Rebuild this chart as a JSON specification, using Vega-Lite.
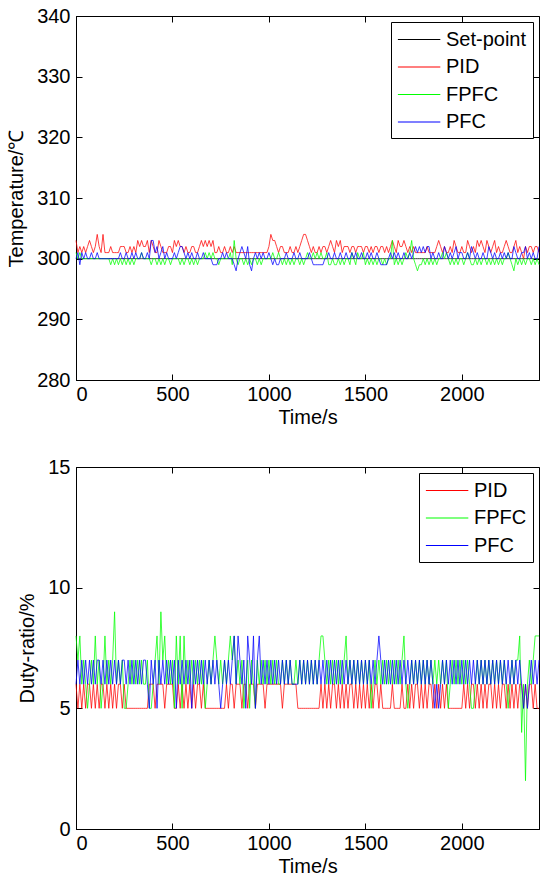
{
"$schema": "https://vega.github.io/schema/vega-lite/v6.json",
"padding": {"left": 6, "top": 5, "right": 0, "bottom": 0},
"spacing": 28,
"config": {
  "font": "Liberation Sans",
  "view": {"stroke": "black", "strokeWidth": 1},
  "axis": {"grid": false, "domainColor": "black", "domainWidth": 1, "tickColor": "black", "labelColor": "black", "titleColor": "black", "labelFontSize": 20, "titleFontSize": 20, "titleFontWeight": "normal", "tickSize": -6, "labelFont": "Liberation Sans", "titleFont": "Liberation Sans"},
  "axisX": {"labelPadding": 10, "titlePadding": 3},
  "axisY": {"labelPadding": 12, "titlePadding": 10},
  "legend": {"orient": "top-right", "offset": 6, "fillColor": "white", "strokeColor": "black", "strokeWidth": 1, "padding": 6, "labelFontSize": 20, "labelFont": "Liberation Sans", "labelColor": "black", "symbolType": "M-1,0L3,0", "symbolSize": 450, "symbolStrokeWidth": 1.1, "labelOffset": 26, "rowPadding": 5.5, "cornerRadius": 0}
},
"datasets": {
"temp": [
{"t":0,"Set-point":300,"PID":303,"FPFC":301,"PFC":300},
{"t":10,"Set-point":300,"PID":301,"FPFC":300,"PFC":301},
{"t":20,"Set-point":300,"PID":302,"FPFC":301,"PFC":299},
{"t":30,"Set-point":300,"PID":301,"FPFC":300,"PFC":301},
{"t":40,"Set-point":300,"PID":302,"FPFC":300,"PFC":300},
{"t":50,"Set-point":300,"PID":301,"FPFC":300,"PFC":301},
{"t":60,"Set-point":300,"PID":302,"FPFC":300,"PFC":300},
{"t":70,"Set-point":300,"PID":303,"FPFC":300,"PFC":300},
{"t":80,"Set-point":300,"PID":302,"FPFC":300,"PFC":301},
{"t":90,"Set-point":300,"PID":301,"FPFC":300,"PFC":300},
{"t":100,"Set-point":300,"PID":302,"FPFC":300,"PFC":300},
{"t":110,"Set-point":300,"PID":304,"FPFC":300,"PFC":301},
{"t":120,"Set-point":300,"PID":302,"FPFC":300,"PFC":300},
{"t":130,"Set-point":300,"PID":301,"FPFC":300,"PFC":300},
{"t":140,"Set-point":300,"PID":304,"FPFC":300,"PFC":300},
{"t":150,"Set-point":300,"PID":301,"FPFC":300,"PFC":300},
{"t":160,"Set-point":300,"PID":301,"FPFC":300,"PFC":300},
{"t":170,"Set-point":300,"PID":301,"FPFC":300,"PFC":300},
{"t":180,"Set-point":300,"PID":302,"FPFC":299,"PFC":300},
{"t":190,"Set-point":300,"PID":301,"FPFC":300,"PFC":300},
{"t":200,"Set-point":300,"PID":301,"FPFC":299,"PFC":300},
{"t":210,"Set-point":300,"PID":301,"FPFC":300,"PFC":300},
{"t":220,"Set-point":300,"PID":301,"FPFC":299,"PFC":300},
{"t":230,"Set-point":300,"PID":302,"FPFC":300,"PFC":301},
{"t":240,"Set-point":300,"PID":302,"FPFC":299,"PFC":300},
{"t":250,"Set-point":300,"PID":302,"FPFC":300,"PFC":300},
{"t":260,"Set-point":300,"PID":301,"FPFC":299,"PFC":301},
{"t":270,"Set-point":300,"PID":301,"FPFC":300,"PFC":300},
{"t":280,"Set-point":300,"PID":302,"FPFC":299,"PFC":300},
{"t":290,"Set-point":300,"PID":301,"FPFC":300,"PFC":301},
{"t":300,"Set-point":300,"PID":302,"FPFC":299,"PFC":300},
{"t":310,"Set-point":300,"PID":301,"FPFC":300,"PFC":301},
{"t":320,"Set-point":300,"PID":303,"FPFC":300,"PFC":300},
{"t":330,"Set-point":300,"PID":302,"FPFC":300,"PFC":300},
{"t":340,"Set-point":300,"PID":303,"FPFC":301,"PFC":301},
{"t":350,"Set-point":300,"PID":302,"FPFC":300,"PFC":300},
{"t":360,"Set-point":300,"PID":302,"FPFC":300,"PFC":300},
{"t":370,"Set-point":300,"PID":303,"FPFC":300,"PFC":301},
{"t":380,"Set-point":300,"PID":301,"FPFC":300,"PFC":300},
{"t":390,"Set-point":300,"PID":303,"FPFC":299,"PFC":303},
{"t":400,"Set-point":300,"PID":302,"FPFC":300,"PFC":303},
{"t":410,"Set-point":300,"PID":301,"FPFC":300,"PFC":301},
{"t":420,"Set-point":300,"PID":301,"FPFC":299,"PFC":302},
{"t":430,"Set-point":300,"PID":303,"FPFC":300,"PFC":300},
{"t":440,"Set-point":300,"PID":302,"FPFC":299,"PFC":301},
{"t":450,"Set-point":300,"PID":301,"FPFC":300,"PFC":302},
{"t":460,"Set-point":300,"PID":301,"FPFC":299,"PFC":300},
{"t":470,"Set-point":300,"PID":301,"FPFC":300,"PFC":301},
{"t":480,"Set-point":300,"PID":302,"FPFC":300,"PFC":300},
{"t":490,"Set-point":300,"PID":302,"FPFC":299,"PFC":300},
{"t":500,"Set-point":300,"PID":301,"FPFC":300,"PFC":300},
{"t":510,"Set-point":300,"PID":303,"FPFC":300,"PFC":301},
{"t":520,"Set-point":300,"PID":302,"FPFC":300,"PFC":300},
{"t":530,"Set-point":300,"PID":303,"FPFC":300,"PFC":301},
{"t":540,"Set-point":300,"PID":302,"FPFC":299,"PFC":302},
{"t":550,"Set-point":300,"PID":302,"FPFC":300,"PFC":302},
{"t":560,"Set-point":300,"PID":301,"FPFC":299,"PFC":301},
{"t":570,"Set-point":300,"PID":302,"FPFC":300,"PFC":300},
{"t":580,"Set-point":300,"PID":301,"FPFC":300,"PFC":301},
{"t":590,"Set-point":300,"PID":301,"FPFC":299,"PFC":300},
{"t":600,"Set-point":300,"PID":302,"FPFC":300,"PFC":301},
{"t":610,"Set-point":300,"PID":302,"FPFC":299,"PFC":300},
{"t":620,"Set-point":300,"PID":301,"FPFC":300,"PFC":300},
{"t":630,"Set-point":300,"PID":301,"FPFC":299,"PFC":301},
{"t":640,"Set-point":300,"PID":302,"FPFC":300,"PFC":300},
{"t":650,"Set-point":300,"PID":303,"FPFC":300,"PFC":300},
{"t":660,"Set-point":300,"PID":302,"FPFC":300,"PFC":301},
{"t":670,"Set-point":300,"PID":303,"FPFC":301,"PFC":300},
{"t":680,"Set-point":300,"PID":302,"FPFC":300,"PFC":300},
{"t":690,"Set-point":300,"PID":303,"FPFC":301,"PFC":300},
{"t":700,"Set-point":300,"PID":302,"FPFC":300,"PFC":300},
{"t":710,"Set-point":300,"PID":303,"FPFC":301,"PFC":299},
{"t":720,"Set-point":300,"PID":301,"FPFC":300,"PFC":299},
{"t":730,"Set-point":300,"PID":301,"FPFC":300,"PFC":299},
{"t":740,"Set-point":300,"PID":302,"FPFC":299,"PFC":300},
{"t":750,"Set-point":300,"PID":301,"FPFC":300,"PFC":300},
{"t":760,"Set-point":300,"PID":301,"FPFC":300,"PFC":301},
{"t":770,"Set-point":300,"PID":302,"FPFC":300,"PFC":300},
{"t":780,"Set-point":300,"PID":301,"FPFC":300,"PFC":301},
{"t":790,"Set-point":300,"PID":301,"FPFC":300,"PFC":300},
{"t":800,"Set-point":300,"PID":302,"FPFC":301,"PFC":300},
{"t":810,"Set-point":300,"PID":301,"FPFC":299,"PFC":300},
{"t":820,"Set-point":300,"PID":302,"FPFC":303,"PFC":299},
{"t":830,"Set-point":300,"PID":301,"FPFC":300,"PFC":298},
{"t":840,"Set-point":300,"PID":301,"FPFC":299,"PFC":300},
{"t":850,"Set-point":300,"PID":301,"FPFC":300,"PFC":301},
{"t":860,"Set-point":300,"PID":301,"FPFC":300,"PFC":302},
{"t":870,"Set-point":300,"PID":301,"FPFC":299,"PFC":301},
{"t":880,"Set-point":300,"PID":301,"FPFC":300,"PFC":300},
{"t":890,"Set-point":300,"PID":301,"FPFC":299,"PFC":302},
{"t":900,"Set-point":300,"PID":301,"FPFC":300,"PFC":299},
{"t":910,"Set-point":300,"PID":301,"FPFC":299,"PFC":298},
{"t":920,"Set-point":300,"PID":301,"FPFC":300,"PFC":300},
{"t":930,"Set-point":300,"PID":301,"FPFC":300,"PFC":301},
{"t":940,"Set-point":300,"PID":301,"FPFC":299,"PFC":300},
{"t":950,"Set-point":300,"PID":301,"FPFC":300,"PFC":301},
{"t":960,"Set-point":300,"PID":301,"FPFC":299,"PFC":300},
{"t":970,"Set-point":300,"PID":301,"FPFC":300,"PFC":301},
{"t":980,"Set-point":300,"PID":301,"FPFC":300,"PFC":300},
{"t":990,"Set-point":300,"PID":301,"FPFC":300,"PFC":300},
{"t":1000,"Set-point":300,"PID":302,"FPFC":300,"PFC":301},
{"t":1010,"Set-point":300,"PID":304,"FPFC":300,"PFC":300},
{"t":1020,"Set-point":300,"PID":303,"FPFC":301,"PFC":299},
{"t":1030,"Set-point":300,"PID":303,"FPFC":300,"PFC":300},
{"t":1040,"Set-point":300,"PID":302,"FPFC":300,"PFC":299},
{"t":1050,"Set-point":300,"PID":301,"FPFC":301,"PFC":299},
{"t":1060,"Set-point":300,"PID":302,"FPFC":300,"PFC":300},
{"t":1070,"Set-point":300,"PID":302,"FPFC":299,"PFC":300},
{"t":1080,"Set-point":300,"PID":301,"FPFC":300,"PFC":300},
{"t":1090,"Set-point":300,"PID":301,"FPFC":299,"PFC":301},
{"t":1100,"Set-point":300,"PID":301,"FPFC":300,"PFC":300},
{"t":1110,"Set-point":300,"PID":302,"FPFC":299,"PFC":300},
{"t":1120,"Set-point":300,"PID":301,"FPFC":300,"PFC":300},
{"t":1130,"Set-point":300,"PID":301,"FPFC":299,"PFC":301},
{"t":1140,"Set-point":300,"PID":302,"FPFC":300,"PFC":300},
{"t":1150,"Set-point":300,"PID":301,"FPFC":300,"PFC":300},
{"t":1160,"Set-point":300,"PID":302,"FPFC":299,"PFC":301},
{"t":1170,"Set-point":300,"PID":303,"FPFC":300,"PFC":300},
{"t":1180,"Set-point":300,"PID":304,"FPFC":299,"PFC":300},
{"t":1190,"Set-point":300,"PID":304,"FPFC":300,"PFC":300},
{"t":1200,"Set-point":300,"PID":303,"FPFC":301,"PFC":300},
{"t":1210,"Set-point":300,"PID":302,"FPFC":300,"PFC":301},
{"t":1220,"Set-point":300,"PID":301,"FPFC":300,"PFC":300},
{"t":1230,"Set-point":300,"PID":302,"FPFC":301,"PFC":299},
{"t":1240,"Set-point":300,"PID":301,"FPFC":300,"PFC":299},
{"t":1250,"Set-point":300,"PID":301,"FPFC":301,"PFC":299},
{"t":1260,"Set-point":300,"PID":302,"FPFC":300,"PFC":299},
{"t":1270,"Set-point":300,"PID":301,"FPFC":301,"PFC":299},
{"t":1280,"Set-point":300,"PID":302,"FPFC":300,"PFC":299},
{"t":1290,"Set-point":300,"PID":302,"FPFC":300,"PFC":300},
{"t":1300,"Set-point":300,"PID":301,"FPFC":301,"PFC":300},
{"t":1310,"Set-point":300,"PID":302,"FPFC":299,"PFC":301},
{"t":1320,"Set-point":300,"PID":303,"FPFC":299,"PFC":300},
{"t":1330,"Set-point":300,"PID":302,"FPFC":300,"PFC":300},
{"t":1340,"Set-point":300,"PID":301,"FPFC":299,"PFC":301},
{"t":1350,"Set-point":300,"PID":303,"FPFC":299,"PFC":300},
{"t":1360,"Set-point":300,"PID":302,"FPFC":300,"PFC":300},
{"t":1370,"Set-point":300,"PID":303,"FPFC":299,"PFC":301},
{"t":1380,"Set-point":300,"PID":301,"FPFC":300,"PFC":300},
{"t":1390,"Set-point":300,"PID":302,"FPFC":299,"PFC":300},
{"t":1400,"Set-point":300,"PID":302,"FPFC":300,"PFC":301},
{"t":1410,"Set-point":300,"PID":302,"FPFC":300,"PFC":300},
{"t":1420,"Set-point":300,"PID":301,"FPFC":299,"PFC":300},
{"t":1430,"Set-point":300,"PID":302,"FPFC":301,"PFC":301},
{"t":1440,"Set-point":300,"PID":302,"FPFC":300,"PFC":300},
{"t":1450,"Set-point":300,"PID":301,"FPFC":299,"PFC":301},
{"t":1460,"Set-point":300,"PID":302,"FPFC":301,"PFC":300},
{"t":1470,"Set-point":300,"PID":302,"FPFC":300,"PFC":300},
{"t":1480,"Set-point":300,"PID":302,"FPFC":300,"PFC":301},
{"t":1490,"Set-point":300,"PID":301,"FPFC":301,"PFC":300},
{"t":1500,"Set-point":300,"PID":302,"FPFC":299,"PFC":300},
{"t":1510,"Set-point":300,"PID":302,"FPFC":300,"PFC":301},
{"t":1520,"Set-point":300,"PID":301,"FPFC":299,"PFC":300},
{"t":1530,"Set-point":300,"PID":302,"FPFC":300,"PFC":301},
{"t":1540,"Set-point":300,"PID":301,"FPFC":299,"PFC":300},
{"t":1550,"Set-point":300,"PID":302,"FPFC":300,"PFC":300},
{"t":1560,"Set-point":300,"PID":302,"FPFC":299,"PFC":301},
{"t":1570,"Set-point":300,"PID":301,"FPFC":300,"PFC":300},
{"t":1580,"Set-point":300,"PID":302,"FPFC":300,"PFC":299},
{"t":1590,"Set-point":300,"PID":302,"FPFC":299,"PFC":299},
{"t":1600,"Set-point":300,"PID":301,"FPFC":300,"PFC":299},
{"t":1610,"Set-point":300,"PID":302,"FPFC":299,"PFC":299},
{"t":1620,"Set-point":300,"PID":301,"FPFC":300,"PFC":300},
{"t":1630,"Set-point":300,"PID":302,"FPFC":300,"PFC":301},
{"t":1640,"Set-point":300,"PID":303,"FPFC":303,"PFC":300},
{"t":1650,"Set-point":300,"PID":302,"FPFC":299,"PFC":301},
{"t":1660,"Set-point":300,"PID":301,"FPFC":300,"PFC":300},
{"t":1670,"Set-point":300,"PID":303,"FPFC":299,"PFC":301},
{"t":1680,"Set-point":300,"PID":302,"FPFC":300,"PFC":300},
{"t":1690,"Set-point":300,"PID":302,"FPFC":299,"PFC":300},
{"t":1700,"Set-point":300,"PID":303,"FPFC":300,"PFC":301},
{"t":1710,"Set-point":300,"PID":302,"FPFC":301,"PFC":300},
{"t":1720,"Set-point":300,"PID":301,"FPFC":300,"PFC":300},
{"t":1730,"Set-point":300,"PID":302,"FPFC":301,"PFC":301},
{"t":1740,"Set-point":300,"PID":301,"FPFC":303,"PFC":300},
{"t":1750,"Set-point":300,"PID":302,"FPFC":300,"PFC":301},
{"t":1760,"Set-point":300,"PID":301,"FPFC":299,"PFC":302},
{"t":1770,"Set-point":300,"PID":301,"FPFC":298,"PFC":301},
{"t":1780,"Set-point":300,"PID":301,"FPFC":299,"PFC":302},
{"t":1790,"Set-point":300,"PID":301,"FPFC":299,"PFC":301},
{"t":1800,"Set-point":300,"PID":301,"FPFC":300,"PFC":302},
{"t":1810,"Set-point":300,"PID":301,"FPFC":299,"PFC":301},
{"t":1820,"Set-point":300,"PID":302,"FPFC":300,"PFC":302},
{"t":1830,"Set-point":300,"PID":301,"FPFC":299,"PFC":302},
{"t":1840,"Set-point":300,"PID":301,"FPFC":300,"PFC":300},
{"t":1850,"Set-point":300,"PID":301,"FPFC":299,"PFC":301},
{"t":1860,"Set-point":300,"PID":301,"FPFC":300,"PFC":300},
{"t":1870,"Set-point":300,"PID":302,"FPFC":299,"PFC":300},
{"t":1880,"Set-point":300,"PID":303,"FPFC":300,"PFC":301},
{"t":1890,"Set-point":300,"PID":302,"FPFC":300,"PFC":300},
{"t":1900,"Set-point":300,"PID":301,"FPFC":301,"PFC":300},
{"t":1910,"Set-point":300,"PID":302,"FPFC":300,"PFC":302},
{"t":1920,"Set-point":300,"PID":301,"FPFC":301,"PFC":301},
{"t":1930,"Set-point":300,"PID":301,"FPFC":300,"PFC":300},
{"t":1940,"Set-point":300,"PID":302,"FPFC":299,"PFC":301},
{"t":1950,"Set-point":300,"PID":301,"FPFC":300,"PFC":300},
{"t":1960,"Set-point":300,"PID":303,"FPFC":299,"PFC":301},
{"t":1970,"Set-point":300,"PID":302,"FPFC":300,"PFC":302},
{"t":1980,"Set-point":300,"PID":301,"FPFC":299,"PFC":300},
{"t":1990,"Set-point":300,"PID":301,"FPFC":300,"PFC":301},
{"t":2000,"Set-point":300,"PID":302,"FPFC":300,"PFC":301},
{"t":2010,"Set-point":300,"PID":301,"FPFC":299,"PFC":300},
{"t":2020,"Set-point":300,"PID":301,"FPFC":300,"PFC":300},
{"t":2030,"Set-point":300,"PID":303,"FPFC":301,"PFC":301},
{"t":2040,"Set-point":300,"PID":302,"FPFC":300,"PFC":300},
{"t":2050,"Set-point":300,"PID":301,"FPFC":299,"PFC":302},
{"t":2060,"Set-point":300,"PID":302,"FPFC":299,"PFC":301},
{"t":2070,"Set-point":300,"PID":301,"FPFC":300,"PFC":300},
{"t":2080,"Set-point":300,"PID":303,"FPFC":299,"PFC":301},
{"t":2090,"Set-point":300,"PID":302,"FPFC":300,"PFC":300},
{"t":2100,"Set-point":300,"PID":303,"FPFC":299,"PFC":300},
{"t":2110,"Set-point":300,"PID":302,"FPFC":300,"PFC":301},
{"t":2120,"Set-point":300,"PID":301,"FPFC":300,"PFC":300},
{"t":2130,"Set-point":300,"PID":303,"FPFC":299,"PFC":300},
{"t":2140,"Set-point":300,"PID":302,"FPFC":300,"PFC":302},
{"t":2150,"Set-point":300,"PID":301,"FPFC":299,"PFC":301},
{"t":2160,"Set-point":300,"PID":302,"FPFC":300,"PFC":300},
{"t":2170,"Set-point":300,"PID":303,"FPFC":299,"PFC":301},
{"t":2180,"Set-point":300,"PID":301,"FPFC":300,"PFC":300},
{"t":2190,"Set-point":300,"PID":302,"FPFC":299,"PFC":300},
{"t":2200,"Set-point":300,"PID":301,"FPFC":300,"PFC":301},
{"t":2210,"Set-point":300,"PID":301,"FPFC":299,"PFC":300},
{"t":2220,"Set-point":300,"PID":302,"FPFC":300,"PFC":301},
{"t":2230,"Set-point":300,"PID":303,"FPFC":300,"PFC":300},
{"t":2240,"Set-point":300,"PID":302,"FPFC":301,"PFC":301},
{"t":2250,"Set-point":300,"PID":301,"FPFC":300,"PFC":300},
{"t":2260,"Set-point":300,"PID":301,"FPFC":299,"PFC":300},
{"t":2270,"Set-point":300,"PID":302,"FPFC":298,"PFC":302},
{"t":2280,"Set-point":300,"PID":303,"FPFC":300,"PFC":301},
{"t":2290,"Set-point":300,"PID":301,"FPFC":299,"PFC":300},
{"t":2300,"Set-point":300,"PID":302,"FPFC":300,"PFC":300},
{"t":2310,"Set-point":300,"PID":301,"FPFC":299,"PFC":301},
{"t":2320,"Set-point":300,"PID":300,"FPFC":300,"PFC":301},
{"t":2330,"Set-point":300,"PID":302,"FPFC":299,"PFC":302},
{"t":2340,"Set-point":300,"PID":301,"FPFC":300,"PFC":300},
{"t":2350,"Set-point":300,"PID":302,"FPFC":300,"PFC":301},
{"t":2360,"Set-point":300,"PID":302,"FPFC":299,"PFC":300},
{"t":2370,"Set-point":300,"PID":301,"FPFC":300,"PFC":301},
{"t":2380,"Set-point":300,"PID":302,"FPFC":299,"PFC":300},
{"t":2390,"Set-point":300,"PID":302,"FPFC":300,"PFC":300},
{"t":2400,"Set-point":300,"PID":301,"FPFC":299,"PFC":302}
],
"duty": [
{"t":0,"PID":6,"FPFC":8,"PFC":6},
{"t":10,"PID":5,"FPFC":7,"PFC":7},
{"t":20,"PID":6,"FPFC":8,"PFC":6},
{"t":30,"PID":5,"FPFC":6,"PFC":7},
{"t":40,"PID":6,"FPFC":7,"PFC":6},
{"t":50,"PID":5,"FPFC":6,"PFC":7},
{"t":60,"PID":6,"FPFC":5,"PFC":6},
{"t":70,"PID":6,"FPFC":6,"PFC":7},
{"t":80,"PID":5,"FPFC":7,"PFC":6},
{"t":90,"PID":6,"FPFC":6,"PFC":7},
{"t":100,"PID":5,"FPFC":8,"PFC":6},
{"t":110,"PID":6,"FPFC":6,"PFC":7},
{"t":120,"PID":5,"FPFC":7,"PFC":7},
{"t":130,"PID":6,"FPFC":5,"PFC":6},
{"t":140,"PID":6,"FPFC":6,"PFC":7},
{"t":150,"PID":5,"FPFC":8,"PFC":6},
{"t":160,"PID":6,"FPFC":6,"PFC":7},
{"t":170,"PID":5,"FPFC":7,"PFC":6},
{"t":180,"PID":6,"FPFC":6,"PFC":7},
{"t":190,"PID":5,"FPFC":7,"PFC":6},
{"t":200,"PID":6,"FPFC":9,"PFC":7},
{"t":210,"PID":5,"FPFC":6,"PFC":6},
{"t":220,"PID":6,"FPFC":7,"PFC":7},
{"t":230,"PID":6,"FPFC":6,"PFC":6},
{"t":240,"PID":5,"FPFC":7,"PFC":7},
{"t":250,"PID":6,"FPFC":5,"PFC":7},
{"t":260,"PID":5,"FPFC":5,"PFC":6},
{"t":270,"PID":5,"FPFC":6,"PFC":7},
{"t":280,"PID":5,"FPFC":7,"PFC":6},
{"t":290,"PID":5,"FPFC":6,"PFC":7},
{"t":300,"PID":5,"FPFC":7,"PFC":6},
{"t":310,"PID":5,"FPFC":6,"PFC":7},
{"t":320,"PID":5,"FPFC":7,"PFC":6},
{"t":330,"PID":5,"FPFC":6,"PFC":7},
{"t":340,"PID":5,"FPFC":7,"PFC":6},
{"t":350,"PID":5,"FPFC":6,"PFC":7},
{"t":360,"PID":5,"FPFC":6,"PFC":7},
{"t":370,"PID":5,"FPFC":7,"PFC":6},
{"t":380,"PID":6,"FPFC":5,"PFC":5},
{"t":390,"PID":6,"FPFC":5,"PFC":7},
{"t":400,"PID":6,"FPFC":6,"PFC":6},
{"t":410,"PID":5,"FPFC":7,"PFC":7},
{"t":420,"PID":6,"FPFC":8,"PFC":5},
{"t":430,"PID":6,"FPFC":6,"PFC":7},
{"t":440,"PID":6,"FPFC":9,"PFC":6},
{"t":450,"PID":6,"FPFC":7,"PFC":7},
{"t":460,"PID":5,"FPFC":8,"PFC":6},
{"t":470,"PID":6,"FPFC":6,"PFC":7},
{"t":480,"PID":6,"FPFC":7,"PFC":6},
{"t":490,"PID":6,"FPFC":6,"PFC":7},
{"t":500,"PID":6,"FPFC":7,"PFC":6},
{"t":510,"PID":5,"FPFC":5,"PFC":7},
{"t":520,"PID":5,"FPFC":8,"PFC":5},
{"t":530,"PID":6,"FPFC":6,"PFC":7},
{"t":540,"PID":5,"FPFC":8,"PFC":6},
{"t":550,"PID":6,"FPFC":5,"PFC":7},
{"t":560,"PID":5,"FPFC":8,"PFC":6},
{"t":570,"PID":6,"FPFC":6,"PFC":7},
{"t":580,"PID":5,"FPFC":7,"PFC":6},
{"t":590,"PID":6,"FPFC":6,"PFC":7},
{"t":600,"PID":5,"FPFC":7,"PFC":5},
{"t":610,"PID":6,"FPFC":6,"PFC":7},
{"t":620,"PID":5,"FPFC":7,"PFC":6},
{"t":630,"PID":6,"FPFC":6,"PFC":7},
{"t":640,"PID":6,"FPFC":7,"PFC":6},
{"t":650,"PID":5,"FPFC":6,"PFC":7},
{"t":660,"PID":6,"FPFC":7,"PFC":6},
{"t":670,"PID":5,"FPFC":5,"PFC":7},
{"t":680,"PID":5,"FPFC":6,"PFC":6},
{"t":690,"PID":5,"FPFC":7,"PFC":7},
{"t":700,"PID":5,"FPFC":6,"PFC":6},
{"t":710,"PID":5,"FPFC":7,"PFC":7},
{"t":720,"PID":5,"FPFC":8,"PFC":6},
{"t":730,"PID":5,"FPFC":7,"PFC":7},
{"t":740,"PID":5,"FPFC":6,"PFC":6},
{"t":750,"PID":5,"FPFC":7,"PFC":5},
{"t":760,"PID":5,"FPFC":6,"PFC":6},
{"t":770,"PID":5,"FPFC":7,"PFC":7},
{"t":780,"PID":6,"FPFC":6,"PFC":6},
{"t":790,"PID":5,"FPFC":7,"PFC":7},
{"t":800,"PID":6,"FPFC":8,"PFC":6},
{"t":810,"PID":6,"FPFC":7,"PFC":7},
{"t":820,"PID":5,"FPFC":8,"PFC":8},
{"t":830,"PID":6,"FPFC":6,"PFC":6},
{"t":840,"PID":6,"FPFC":7,"PFC":8},
{"t":850,"PID":6,"FPFC":6,"PFC":7},
{"t":860,"PID":5,"FPFC":7,"PFC":6},
{"t":870,"PID":6,"FPFC":5,"PFC":7},
{"t":880,"PID":6,"FPFC":6,"PFC":5},
{"t":890,"PID":5,"FPFC":7,"PFC":8},
{"t":900,"PID":6,"FPFC":5,"PFC":7},
{"t":910,"PID":6,"FPFC":7,"PFC":6},
{"t":920,"PID":6,"FPFC":6,"PFC":8},
{"t":930,"PID":5,"FPFC":5,"PFC":5},
{"t":940,"PID":6,"FPFC":7,"PFC":7},
{"t":950,"PID":6,"FPFC":6,"PFC":8},
{"t":960,"PID":6,"FPFC":7,"PFC":6},
{"t":970,"PID":6,"FPFC":6,"PFC":7},
{"t":980,"PID":5,"FPFC":7,"PFC":6},
{"t":990,"PID":6,"FPFC":6,"PFC":7},
{"t":1000,"PID":6,"FPFC":7,"PFC":6},
{"t":1010,"PID":6,"FPFC":6,"PFC":7},
{"t":1020,"PID":6,"FPFC":7,"PFC":6},
{"t":1030,"PID":6,"FPFC":6,"PFC":7},
{"t":1040,"PID":6,"FPFC":7,"PFC":6},
{"t":1050,"PID":6,"FPFC":6,"PFC":7},
{"t":1060,"PID":6,"FPFC":6,"PFC":6},
{"t":1070,"PID":5,"FPFC":7,"PFC":7},
{"t":1080,"PID":6,"FPFC":6,"PFC":6},
{"t":1090,"PID":6,"FPFC":7,"PFC":7},
{"t":1100,"PID":6,"FPFC":6,"PFC":6},
{"t":1110,"PID":6,"FPFC":7,"PFC":7},
{"t":1120,"PID":6,"FPFC":6,"PFC":6},
{"t":1130,"PID":6,"FPFC":6,"PFC":6},
{"t":1140,"PID":6,"FPFC":7,"PFC":6},
{"t":1150,"PID":5,"FPFC":6,"PFC":6},
{"t":1160,"PID":5,"FPFC":7,"PFC":7},
{"t":1170,"PID":5,"FPFC":6,"PFC":6},
{"t":1180,"PID":5,"FPFC":7,"PFC":7},
{"t":1190,"PID":5,"FPFC":6,"PFC":6},
{"t":1200,"PID":5,"FPFC":7,"PFC":7},
{"t":1210,"PID":5,"FPFC":6,"PFC":6},
{"t":1220,"PID":5,"FPFC":7,"PFC":7},
{"t":1230,"PID":5,"FPFC":6,"PFC":6},
{"t":1240,"PID":5,"FPFC":7,"PFC":7},
{"t":1250,"PID":5,"FPFC":6,"PFC":6},
{"t":1260,"PID":5,"FPFC":7,"PFC":7},
{"t":1270,"PID":6,"FPFC":8,"PFC":6},
{"t":1280,"PID":5,"FPFC":8,"PFC":7},
{"t":1290,"PID":6,"FPFC":7,"PFC":6},
{"t":1300,"PID":5,"FPFC":6,"PFC":7},
{"t":1310,"PID":6,"FPFC":7,"PFC":6},
{"t":1320,"PID":5,"FPFC":6,"PFC":7},
{"t":1330,"PID":6,"FPFC":7,"PFC":6},
{"t":1340,"PID":6,"FPFC":6,"PFC":7},
{"t":1350,"PID":5,"FPFC":7,"PFC":6},
{"t":1360,"PID":6,"FPFC":6,"PFC":7},
{"t":1370,"PID":5,"FPFC":7,"PFC":6},
{"t":1380,"PID":6,"FPFC":6,"PFC":7},
{"t":1390,"PID":5,"FPFC":7,"PFC":6},
{"t":1400,"PID":6,"FPFC":8,"PFC":7},
{"t":1410,"PID":5,"FPFC":6,"PFC":6},
{"t":1420,"PID":6,"FPFC":7,"PFC":7},
{"t":1430,"PID":6,"FPFC":6,"PFC":6},
{"t":1440,"PID":5,"FPFC":7,"PFC":7},
{"t":1450,"PID":6,"FPFC":6,"PFC":6},
{"t":1460,"PID":5,"FPFC":7,"PFC":7},
{"t":1470,"PID":6,"FPFC":6,"PFC":6},
{"t":1480,"PID":5,"FPFC":7,"PFC":7},
{"t":1490,"PID":6,"FPFC":6,"PFC":6},
{"t":1500,"PID":5,"FPFC":7,"PFC":7},
{"t":1510,"PID":6,"FPFC":6,"PFC":6},
{"t":1520,"PID":5,"FPFC":7,"PFC":7},
{"t":1530,"PID":6,"FPFC":5,"PFC":6},
{"t":1540,"PID":5,"FPFC":6,"PFC":7},
{"t":1550,"PID":6,"FPFC":7,"PFC":6},
{"t":1560,"PID":6,"FPFC":6,"PFC":7},
{"t":1570,"PID":5,"FPFC":7,"PFC":8},
{"t":1580,"PID":6,"FPFC":6,"PFC":7},
{"t":1590,"PID":5,"FPFC":7,"PFC":6},
{"t":1600,"PID":5,"FPFC":6,"PFC":7},
{"t":1610,"PID":5,"FPFC":7,"PFC":6},
{"t":1620,"PID":5,"FPFC":6,"PFC":7},
{"t":1630,"PID":5,"FPFC":7,"PFC":6},
{"t":1640,"PID":6,"FPFC":6,"PFC":7},
{"t":1650,"PID":5,"FPFC":7,"PFC":6},
{"t":1660,"PID":5,"FPFC":6,"PFC":7},
{"t":1670,"PID":5,"FPFC":7,"PFC":6},
{"t":1680,"PID":5,"FPFC":6,"PFC":7},
{"t":1690,"PID":6,"FPFC":7,"PFC":6},
{"t":1700,"PID":5,"FPFC":8,"PFC":7},
{"t":1710,"PID":5,"FPFC":6,"PFC":6},
{"t":1720,"PID":6,"FPFC":5,"PFC":7},
{"t":1730,"PID":5,"FPFC":6,"PFC":6},
{"t":1740,"PID":6,"FPFC":7,"PFC":7},
{"t":1750,"PID":5,"FPFC":6,"PFC":6},
{"t":1760,"PID":6,"FPFC":7,"PFC":7},
{"t":1770,"PID":6,"FPFC":6,"PFC":6},
{"t":1780,"PID":5,"FPFC":7,"PFC":7},
{"t":1790,"PID":6,"FPFC":6,"PFC":6},
{"t":1800,"PID":5,"FPFC":7,"PFC":7},
{"t":1810,"PID":6,"FPFC":6,"PFC":6},
{"t":1820,"PID":5,"FPFC":7,"PFC":7},
{"t":1830,"PID":6,"FPFC":6,"PFC":6},
{"t":1840,"PID":6,"FPFC":7,"PFC":7},
{"t":1850,"PID":5,"FPFC":6,"PFC":6},
{"t":1860,"PID":6,"FPFC":7,"PFC":5},
{"t":1870,"PID":5,"FPFC":6,"PFC":6},
{"t":1880,"PID":6,"FPFC":7,"PFC":5},
{"t":1890,"PID":5,"FPFC":6,"PFC":6},
{"t":1900,"PID":6,"FPFC":7,"PFC":7},
{"t":1910,"PID":5,"FPFC":6,"PFC":6},
{"t":1920,"PID":6,"FPFC":7,"PFC":7},
{"t":1930,"PID":5,"FPFC":5,"PFC":6},
{"t":1940,"PID":5,"FPFC":6,"PFC":7},
{"t":1950,"PID":5,"FPFC":7,"PFC":6},
{"t":1960,"PID":5,"FPFC":6,"PFC":7},
{"t":1970,"PID":5,"FPFC":7,"PFC":6},
{"t":1980,"PID":5,"FPFC":6,"PFC":7},
{"t":1990,"PID":5,"FPFC":7,"PFC":6},
{"t":2000,"PID":5,"FPFC":6,"PFC":7},
{"t":2010,"PID":6,"FPFC":7,"PFC":6},
{"t":2020,"PID":5,"FPFC":6,"PFC":7},
{"t":2030,"PID":6,"FPFC":7,"PFC":6},
{"t":2040,"PID":5,"FPFC":6,"PFC":7},
{"t":2050,"PID":6,"FPFC":5,"PFC":6},
{"t":2060,"PID":6,"FPFC":5,"PFC":7},
{"t":2070,"PID":5,"FPFC":6,"PFC":6},
{"t":2080,"PID":6,"FPFC":7,"PFC":7},
{"t":2090,"PID":5,"FPFC":6,"PFC":6},
{"t":2100,"PID":6,"FPFC":7,"PFC":7},
{"t":2110,"PID":5,"FPFC":6,"PFC":6},
{"t":2120,"PID":6,"FPFC":7,"PFC":7},
{"t":2130,"PID":5,"FPFC":6,"PFC":6},
{"t":2140,"PID":6,"FPFC":7,"PFC":7},
{"t":2150,"PID":6,"FPFC":6,"PFC":6},
{"t":2160,"PID":5,"FPFC":7,"PFC":7},
{"t":2170,"PID":6,"FPFC":6,"PFC":6},
{"t":2180,"PID":5,"FPFC":7,"PFC":7},
{"t":2190,"PID":6,"FPFC":6,"PFC":6},
{"t":2200,"PID":5,"FPFC":7,"PFC":7},
{"t":2210,"PID":6,"FPFC":6,"PFC":6},
{"t":2220,"PID":6,"FPFC":7,"PFC":7},
{"t":2230,"PID":5,"FPFC":6,"PFC":6},
{"t":2240,"PID":6,"FPFC":5,"PFC":7},
{"t":2250,"PID":5,"FPFC":6,"PFC":6},
{"t":2260,"PID":6,"FPFC":7,"PFC":7},
{"t":2270,"PID":5,"FPFC":6,"PFC":6},
{"t":2280,"PID":6,"FPFC":7,"PFC":7},
{"t":2290,"PID":5,"FPFC":7,"PFC":6},
{"t":2300,"PID":6,"FPFC":8,"PFC":7},
{"t":2310,"PID":6,"FPFC":4,"PFC":6},
{"t":2320,"PID":5,"FPFC":6,"PFC":5},
{"t":2330,"PID":6,"FPFC":2,"PFC":6},
{"t":2340,"PID":5,"FPFC":6,"PFC":5},
{"t":2350,"PID":6,"FPFC":7,"PFC":6},
{"t":2360,"PID":6,"FPFC":6,"PFC":7},
{"t":2370,"PID":5,"FPFC":7,"PFC":6},
{"t":2380,"PID":6,"FPFC":8,"PFC":7},
{"t":2390,"PID":5,"FPFC":8,"PFC":6},
{"t":2400,"PID":5,"FPFC":8,"PFC":7}
]
},
"resolve": {"scale": {"color": "independent"}, "legend": {"color": "independent"}},
"vconcat": [
{
  "width": 463, "height": 364,
  "data": {"name": "temp"},
  "transform": [{"fold": ["Set-point", "PID", "FPFC", "PFC"], "as": ["series", "value"]}],
  "layer": [
    {
      "mark": {"type": "line", "strokeWidth": 0.75},
      "encoding": {
        "x": {"field": "t", "type": "quantitative", "scale": {"domain": [0, 2400], "nice": false}, "axis": {"orient": "bottom", "title": "Time/s", "format": "d", "values": [0, 500, 1000, 1500, 2000]}},
        "y": {"field": "value", "type": "quantitative", "scale": {"domain": [280, 340], "nice": false, "zero": false}, "axis": {"orient": "left", "title": "Temperature/℃", "format": "d", "values": [280, 290, 300, 310, 320, 330, 340]}},
        "color": {"field": "series", "type": "nominal", "scale": {"domain": ["Set-point", "PID", "FPFC", "PFC"], "range": ["#000000", "#ff0000", "#00ff00", "#0000ff"]}, "legend": {"title": null}}
      }
    },
    {
      "transform": [{"filter": "datum.series == 'Set-point'"}],
      "mark": {"type": "line", "opacity": 0},
      "encoding": {
        "x": {"field": "t", "type": "quantitative", "axis": {"orient": "top", "title": null, "labels": false, "domain": false, "values": [0, 500, 1000, 1500, 2000]}},
        "y": {"field": "value", "type": "quantitative", "axis": {"orient": "right", "title": null, "labels": false, "domain": false, "values": [280, 290, 300, 310, 320, 330, 340]}}
      }
    }
  ],
  "resolve": {"axis": {"x": "independent", "y": "independent"}}
},
{
  "width": 463, "height": 362,
  "data": {"name": "duty"},
  "transform": [{"fold": ["PID", "FPFC", "PFC"], "as": ["series", "value"]}],
  "layer": [
    {
      "mark": {"type": "line", "strokeWidth": 0.75},
      "encoding": {
        "x": {"field": "t", "type": "quantitative", "scale": {"domain": [0, 2400], "nice": false}, "axis": {"orient": "bottom", "title": "Time/s", "format": "d", "values": [0, 500, 1000, 1500, 2000]}},
        "y": {"field": "value", "type": "quantitative", "scale": {"domain": [0, 15], "nice": false}, "axis": {"orient": "left", "title": "Duty-ratio/%", "format": "d", "values": [0, 5, 10, 15]}},
        "color": {"field": "series", "type": "nominal", "scale": {"domain": ["PID", "FPFC", "PFC"], "range": ["#ff0000", "#00ff00", "#0000ff"]}, "legend": {"title": null}}
      }
    },
    {
      "transform": [{"filter": "datum.series == 'PID'"}],
      "mark": {"type": "line", "opacity": 0},
      "encoding": {
        "x": {"field": "t", "type": "quantitative", "axis": {"orient": "top", "title": null, "labels": false, "domain": false, "values": [0, 500, 1000, 1500, 2000]}},
        "y": {"field": "value", "type": "quantitative", "axis": {"orient": "right", "title": null, "labels": false, "domain": false, "values": [0, 5, 10, 15]}}
      }
    }
  ],
  "resolve": {"axis": {"x": "independent", "y": "independent"}}
}
]
}
